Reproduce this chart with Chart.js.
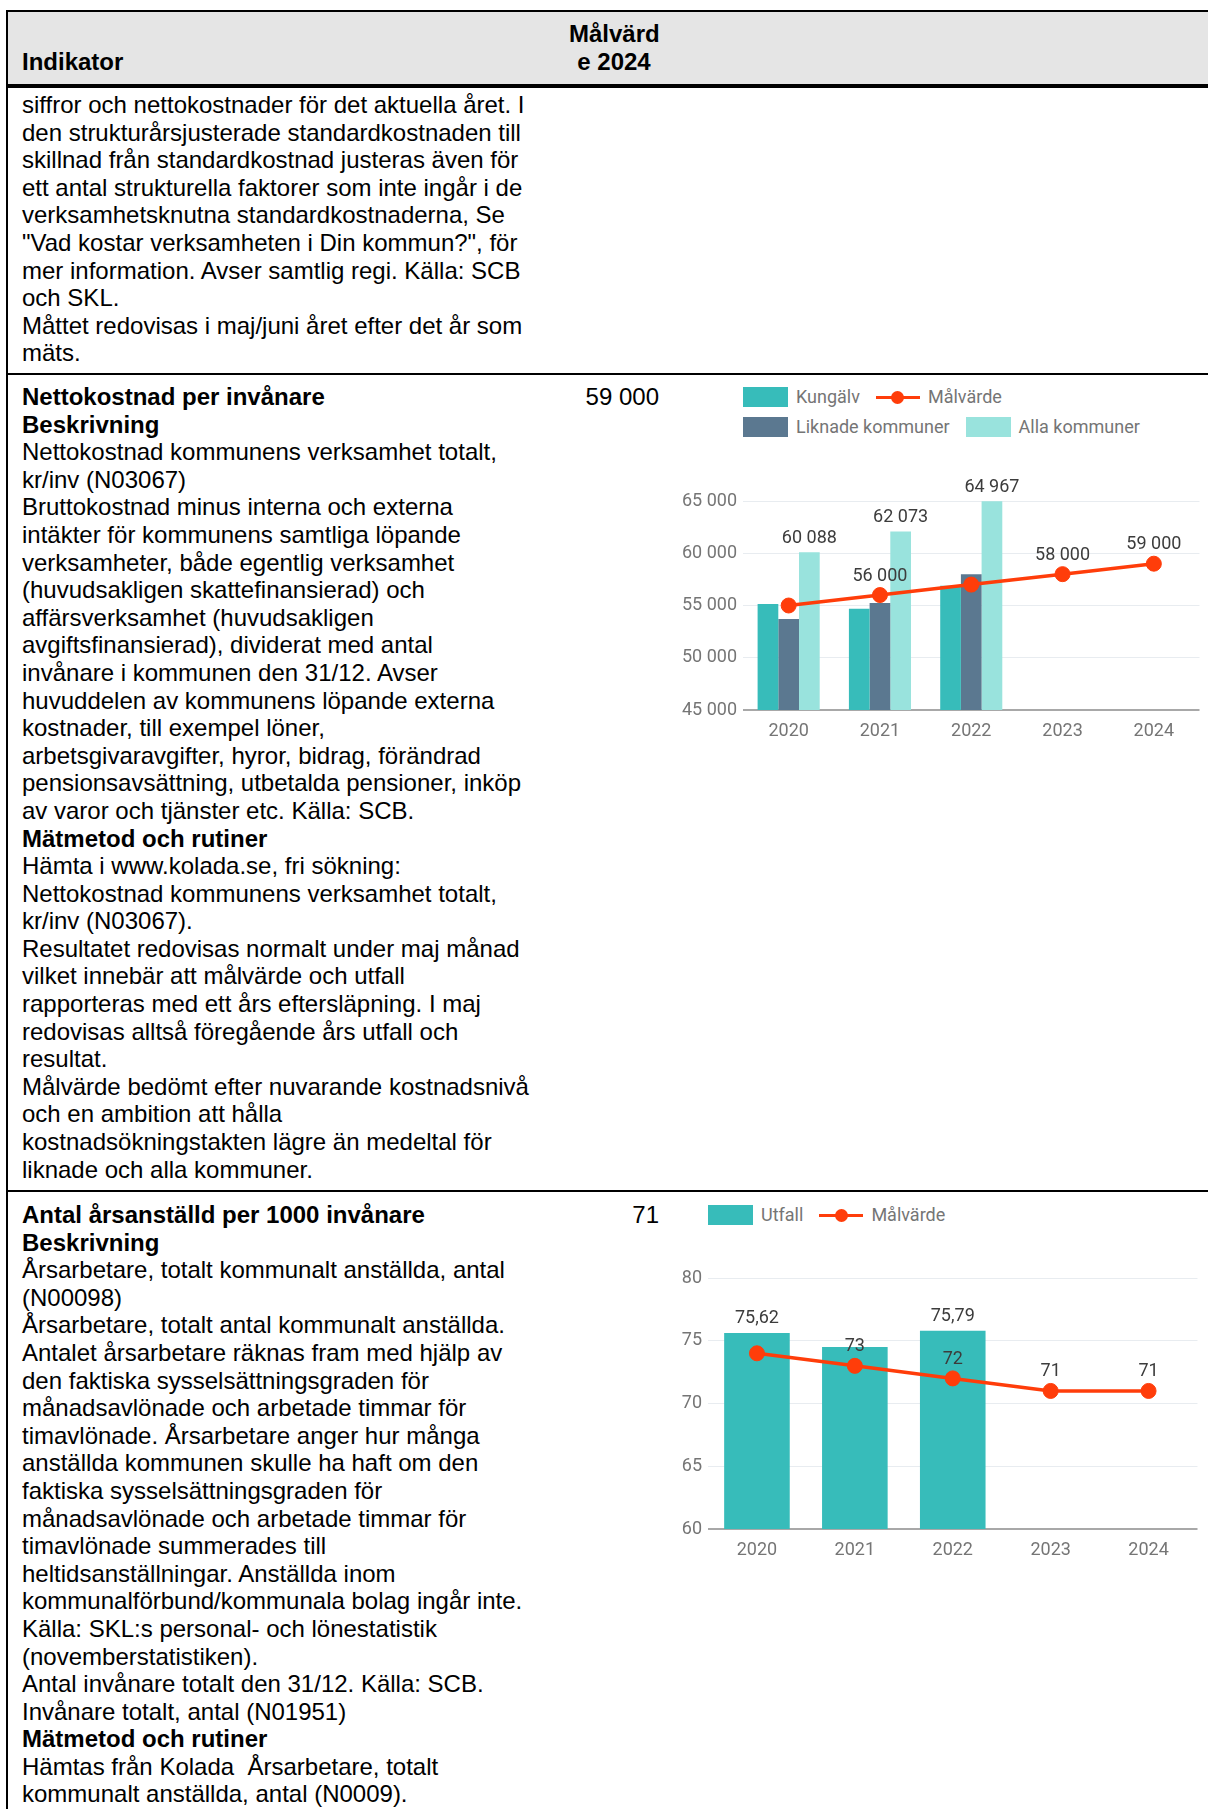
<!DOCTYPE html>
<html lang="sv">
<head>
<meta charset="utf-8">
<title>Indikatorer</title>
<script src="https://cdn.jsdelivr.net/npm/chart.js@4.4.1/dist/chart.umd.min.js"></script>
<style>
  html, body { margin: 0; padding: 0; background: #fff; }
  body { width: 1208px; height: 1809px; overflow: hidden; position: relative;
         font-family: "Liberation Sans", Arial, sans-serif; font-size: 24px; line-height: 27.6px; color: #000; }
  .abs { position: absolute; }
  .line { background: #000; position: absolute; }
  .txt { position: absolute; left: 22px; white-space: nowrap; }
  .val { position: absolute; left: 569px; width: 90px; text-align: right; white-space: nowrap; }
  .legend { position: absolute; font-family: Roboto, sans-serif; font-size: 18px; color: #757575; line-height: 20px; }
  .lrow { display: flex; align-items: center; height: 20px; margin-bottom: 9.5px; }
  .item { display: flex; align-items: center; margin-right: 16px; }
  .box { display: inline-block; width: 45px; height: 20px; margin-right: 8px; }
  .sym { display: inline-block; position: relative; width: 44px; height: 20px; margin-right: 8px; }
  .sym::before { content: ""; position: absolute; left: 0; right: 0; top: 8.5px; height: 3px; background: var(--c); }
  .sym::after { content: ""; position: absolute; left: 15.5px; top: 3.5px; width: 13px; height: 13px; border-radius: 50%; background: var(--c); }
  canvas { position: absolute; }
</style>
</head>
<body>

<!-- table frame -->
<div class="abs" style="left:8px; top:12px; width:1200px; height:72px; background:#e5e5e5;"></div>
<div class="line" style="left:6px; top:10px; width:1202px; height:2px;"></div>
<div class="line" style="left:6px; top:10px; width:2px; height:1799px;"></div>
<div class="line" style="left:6px; top:84px; width:1202px; height:4px;"></div>
<div class="line" style="left:6px; top:373px; width:1202px; height:2px;"></div>
<div class="line" style="left:6px; top:1190px; width:1202px; height:2px;"></div>

<!-- header -->
<div class="txt" style="top:48px;"><b>Indikator</b></div>
<div class="abs" style="left:569px; top:20px; width:90px; text-align:center; white-space:nowrap;"><b>Målvärd<br>e 2024</b></div>

<!-- row 1 (continued from previous page) -->
<div class="txt" style="top:91px;">
siffror och nettokostnader för det aktuella året. I<br>
den strukturårsjusterade standardkostnaden till<br>
skillnad från standardkostnad justeras även för<br>
ett antal strukturella faktorer som inte ingår i de<br>
verksamhetsknutna standardkostnaderna, Se<br>
"Vad kostar verksamheten i Din kommun?", för<br>
mer information. Avser samtlig regi. Källa: SCB<br>
och SKL.<br>
Måttet redovisas i maj/juni året efter det år som<br>
mäts.
</div>

<!-- row 2 -->
<div class="txt" style="top:383px;">
<b>Nettokostnad per invånare</b><br>
<b>Beskrivning</b><br>
Nettokostnad kommunens verksamhet totalt,<br>
kr/inv (N03067)<br>
Bruttokostnad minus interna och externa<br>
intäkter för kommunens samtliga löpande<br>
verksamheter, både egentlig verksamhet<br>
(huvudsakligen skattefinansierad) och<br>
affärsverksamhet (huvudsakligen<br>
avgiftsfinansierad), dividerat med antal<br>
invånare i kommunen den 31/12. Avser<br>
huvuddelen av kommunens löpande externa<br>
kostnader, till exempel löner,<br>
arbetsgivaravgifter, hyror, bidrag, förändrad<br>
pensionsavsättning, utbetalda pensioner, inköp<br>
av varor och tjänster etc. Källa: SCB.<br>
<b>Mätmetod och rutiner</b><br>
Hämta i www.kolada.se, fri sökning:<br>
Nettokostnad kommunens verksamhet totalt,<br>
kr/inv (N03067).<br>
Resultatet redovisas normalt under maj månad<br>
vilket innebär att målvärde och utfall<br>
rapporteras med ett års eftersläpning. I maj<br>
redovisas alltså föregående års utfall och<br>
resultat.<br>
Målvärde bedömt efter nuvarande kostnadsnivå<br>
och en ambition att hålla<br>
kostnadsökningstakten lägre än medeltal för<br>
liknade och alla kommuner.
</div>
<div class="val" style="top:383px;">59 000</div>
<div class="legend" id="legend1" style="left:743px; top:387px;"></div>
<canvas id="chart1" width="548" height="374" style="left:660px; top:376px;"></canvas>

<!-- row 3 -->
<div class="txt" style="top:1201px;">
<b>Antal årsanställd per 1000 invånare</b><br>
<b>Beskrivning</b><br>
Årsarbetare, totalt kommunalt anställda, antal<br>
(N00098)<br>
Årsarbetare, totalt antal kommunalt anställda.<br>
Antalet årsarbetare räknas fram med hjälp av<br>
den faktiska sysselsättningsgraden för<br>
månadsavlönade och arbetade timmar för<br>
timavlönade. Årsarbetare anger hur många<br>
anställda kommunen skulle ha haft om den<br>
faktiska sysselsättningsgraden för<br>
månadsavlönade och arbetade timmar för<br>
timavlönade summerades till<br>
heltidsanställningar. Anställda inom<br>
kommunalförbund/kommunala bolag ingår inte.<br>
Källa: SKL:s personal- och lönestatistik<br>
(novemberstatistiken).<br>
Antal invånare totalt den 31/12. Källa: SCB.<br>
Invånare totalt, antal (N01951)<br>
<b>Mätmetod och rutiner</b><br>
Hämtas från Kolada &nbsp;Årsarbetare, totalt<br>
kommunalt anställda, antal (N0009).
</div>
<div class="val" style="top:1201px;">71</div>
<div class="legend" id="legend2" style="left:708px; top:1205px;"></div>
<canvas id="chart2" width="566" height="377" style="left:640px; top:1192px;"></canvas>

<script>
// --- data ---
const years = ['2020', '2021', '2022', '2023', '2024'];

// Nettokostnad per invånare (kr)
const kungalv = [55150, 54700, 56900, null, null];
const liknade = [53700, 55250, 58000, null, null];
const allaKommuner = [60088, 62073, 64967, null, null];
const malvardeKostnad = [55000, 56000, 57000, 58000, 59000];
const kostnadTicks = [45000, 50000, 55000, 60000, 65000];

// Antal årsanställda per 1000 invånare
const utfall = [75.62, 74.5, 75.79, null, null];
const malvardeAnstallda = [74, 73, 72, 71, 71];
const anstalldaTicks = [60, 65, 70, 75, 80];

// which points carry a value label (the others were hidden by overlap)
const allaLabelIdx = [0, 1, 2];
const malvardeKostnadLabelIdx = [1, 3, 4];
const utfallLabelIdx = [0, 2];
const malvardeAnstalldaLabelIdx = [1, 2, 3, 4];

const TEAL = '#37bcba';
const SLATE = '#5b7890';
const LIGHT = '#99e3dd';
const RED = '#ff3d0a';

// swedish number format: "64 967", "75,62"
function fmt(v) {
  const parts = String(v).split('.');
  const s = parts[0].replace(/\B(?=(\d{3})+(?!\d))/g, ' ');
  return parts[1] ? s + ',' + parts[1] : s;
}

// draws the annotation numbers above bars / points
const valueLabels = {
  id: 'valueLabels',
  afterDatasetsDraw(chart) {
    const ctx = chart.ctx;
    ctx.save();
    ctx.font = '18px Roboto';
    ctx.fillStyle = '#3c3c3c';
    ctx.textAlign = 'center';
    ctx.textBaseline = 'middle';
    chart.data.datasets.forEach((ds, i) => {
      if (!ds.labelIdx) return;
      const meta = chart.getDatasetMeta(i);
      const lift = ds.type === 'line' ? 19 : 14;
      ds.labelIdx.forEach(j => {
        const el = meta.data[j];
        if (!el) return;
        ctx.fillText(fmt(ds.data[j]), el.x, el.y - lift);
      });
    });
    ctx.restore();
  }
};

function buildChart(canvasId, datasets, ticks, opts) {
  const min = ticks[0];
  const max = ticks[ticks.length - 1];
  return new Chart(document.getElementById(canvasId), {
    type: 'bar',
    data: { labels: years, datasets: datasets },
    plugins: [valueLabels],
    options: {
      responsive: false,
      animation: false,
      devicePixelRatio: 1,
      layout: { padding: { top: opts.padTop, left: 0, right: 0, bottom: 0 } },
      plugins: { legend: { display: false }, tooltip: { enabled: false } },
      datasets: {
        bar: { categoryPercentage: opts.catPct, barPercentage: 1 }
      },
      scales: {
        x: {
          grid: { display: false },
          border: { display: false },
          ticks: { color: '#757575', font: { family: 'Roboto', size: 18 }, padding: 3 },
          afterFit: s => { s.height = 40; }
        },
        y: {
          min: min,
          max: max,
          afterBuildTicks: s => { s.ticks = ticks.map(v => ({ value: v })); },
          border: { display: false },
          grid: {
            drawTicks: false,
            color: c => c.tick.value === min ? '#a8a8a8' : '#e8ecf0',
            lineWidth: c => c.tick.value === min ? 2 : 1
          },
          ticks: {
            color: '#757575',
            font: { family: 'Roboto', size: 18 },
            padding: 6,
            callback: v => fmt(v)
          },
          afterFit: s => { s.width = opts.yWidth; }
        }
      }
    }
  });
}

function buildLegend(elId, chart, rows) {
  const el = document.getElementById(elId);
  rows.forEach(row => {
    const r = document.createElement('div');
    r.className = 'lrow';
    row.forEach(i => {
      const ds = chart.data.datasets[i];
      const item = document.createElement('span');
      item.className = 'item';
      const sym = document.createElement('i');
      if (ds.type === 'line') {
        sym.className = 'sym';
        sym.style.setProperty('--c', ds.borderColor);
      } else {
        sym.className = 'box';
        sym.style.background = ds.backgroundColor;
      }
      item.appendChild(sym);
      item.appendChild(document.createTextNode(ds.label));
      r.appendChild(item);
    });
    el.appendChild(r);
  });
}

function lineSet(label, data, labelIdx) {
  return {
    type: 'line', label: label, data: data, labelIdx: labelIdx, order: 0,
    borderColor: RED, backgroundColor: RED, borderWidth: 3.5,
    pointRadius: 7.5, pointBackgroundColor: RED, pointBorderColor: RED, pointBorderWidth: 1
  };
}

const chart1 = buildChart('chart1', [
  { label: 'Kungälv', data: kungalv, backgroundColor: TEAL, order: 1 },
  { label: 'Liknade kommuner', data: liknade, backgroundColor: SLATE, order: 1 },
  { label: 'Alla kommuner', data: allaKommuner, backgroundColor: LIGHT, order: 1, labelIdx: allaLabelIdx },
  lineSet('Målvärde', malvardeKostnad, malvardeKostnadLabelIdx)
], kostnadTicks, { padTop: 125, yWidth: 83, catPct: 0.68 });

const chart2 = buildChart('chart2', [
  { label: 'Utfall', data: utfall, backgroundColor: TEAL, order: 1, labelIdx: utfallLabelIdx },
  lineSet('Målvärde', malvardeAnstallda, malvardeAnstalldaLabelIdx)
], anstalldaTicks, { padTop: 86, yWidth: 68, catPct: 0.67 });

buildLegend('legend1', chart1, [[0, 3], [1, 2]]);
buildLegend('legend2', chart2, [[0, 1]]);
</script>
</body>
</html>
